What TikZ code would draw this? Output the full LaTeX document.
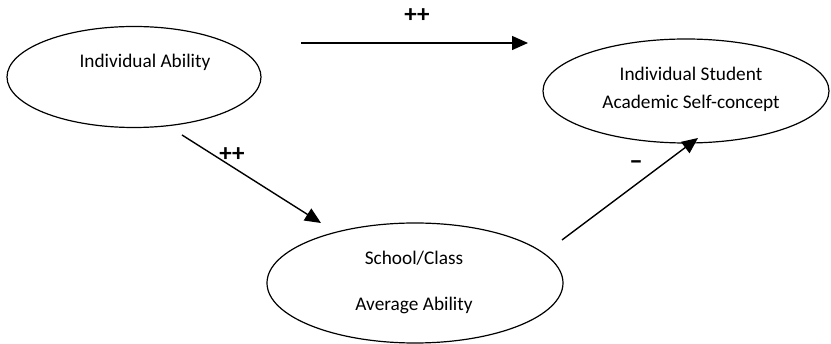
\documentclass[tikz,border=0pt]{standalone}
\usepackage{fontspec}
\setmainfont{Carlito}
\usetikzlibrary{shapes.geometric,arrows.meta}
\begin{document}
\begin{tikzpicture}[x=1pt,y=-1pt,
  construct/.style={draw, ellipse, line width=1.2pt, inner sep=0pt},
  lbl/.style={font=\fontsize{19.3}{22}\selectfont, inner sep=0pt, anchor=center},
  path/.style={line width=1.4pt, -{Triangle[length=16pt,width=14pt]}},
  sign/.style={font=\fontsize{25}{26}\selectfont\bfseries, inner sep=0pt}]
  \useasboundingbox (0,0) rectangle (831,344);
  % latent constructs
  \node[construct, minimum width=254pt, minimum height=101pt] (ia) at (134,77) {};
  \node[construct, minimum width=286pt, minimum height=104pt] (sc) at (686,91) {};
  \node[construct, minimum width=296pt, minimum height=120pt] (ca) at (415,283) {};
  % construct names
  \node[lbl] (iaT) at (145,62) {Individual Ability};
  \node[lbl] (scT1) at (691,74) {Individual Student};
  \node[lbl] (scT2) at (691,103) {Academic Self-concept};
  \node[lbl] (caT1) at (414,258) {School/Class};
  \node[lbl] (caT2) at (414,305) {Average Ability};
  % path end points
  \coordinate (p1s) at (301,43);
  \coordinate (p1e) at (528,43);
  \coordinate (p2s) at (182,135);
  \coordinate (p2e) at (321,223);
  \coordinate (p3s) at (562,240);
  \coordinate (p3e) at (698,138);
  % paths
  \draw[path] (p1s) -- (p1e);
  \draw[path] (p2s) -- (p2e);
  \draw[path] (p3s) -- (p3e);
  % signs
  \node[sign] (s1) at (417,16) {++};
  \node[sign] (s2) at (232,155) {++};
  \node[sign, font=\fontsize{27}{28}\selectfont\bfseries] (s3) at (636,165) {–};
\end{tikzpicture}
\end{document}
